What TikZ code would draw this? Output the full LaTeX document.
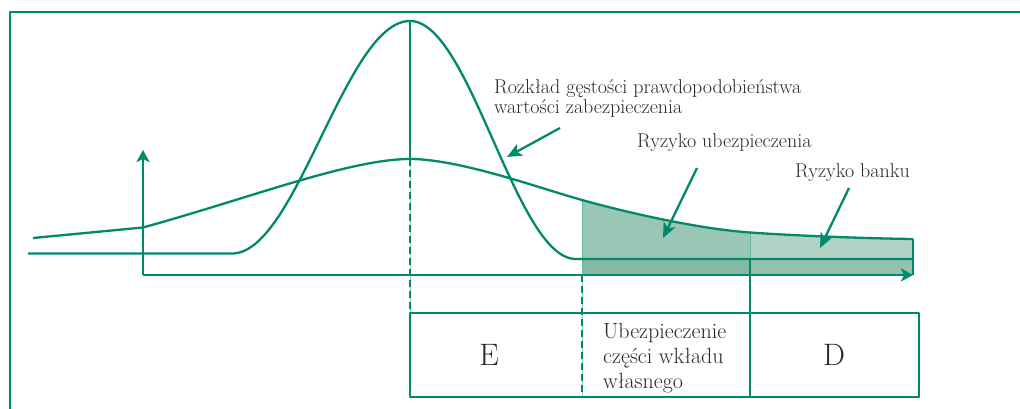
\documentclass[tikz,border=0pt]{standalone}
\usepackage{fontspec}
\usetikzlibrary{arrows.meta}
\definecolor{grn}{RGB}{0,137,107}
\definecolor{fillA}{RGB}{155,198,181}
\definecolor{fillB}{RGB}{177,211,198}
\definecolor{stripA}{RGB}{132,186,166}
\definecolor{stripB}{RGB}{146,193,174}
\definecolor{txt}{RGB}{40,40,40}
\begin{document}
\begin{tikzpicture}[x=1pt,y=-1pt,line join=round,
  gline/.style={draw=grn,line width=2.3pt},
  faint/.style={draw=grn!60,line width=1pt},
  guide/.style={draw=grn!40,line width=1pt},
  dashguide/.style={draw=grn,line width=2.3pt,dash pattern=on 7pt off 4pt},
  axtip/.style={-{Stealth[length=12pt,width=13pt,inset=3pt]}},
  lbtip/.style={-{Stealth[length=15pt,width=13pt,inset=4pt]}},
  lbl/.style={text=txt,inner sep=0pt,font=\fontsize{20}{20}\selectfont},
  cell/.style={text=txt,inner sep=0pt,font=\fontsize{22}{25}\selectfont},
  big/.style={text=txt,inner sep=0pt,font=\fontsize{31}{31}\selectfont}]
\useasboundingbox (0,0) rectangle (1020,409);
% frame
\draw[grn,line width=2.5pt] (10,409) -- (10,12) -- (1020,12);
% coordinates
\coordinate (O) at (143,275);
\coordinate (Ytop) at (143,150);
\coordinate (Xend) at (913,275);
\coordinate (peak) at (410,21);
\coordinate (wpeak) at (410,159);
\coordinate (wA) at (582,200);
\coordinate (wB) at (750,232.5);
\coordinate (wC) at (913,239);
% shaded regions
\fill[fillA] (582,259) -- (wA) .. controls (630,213.4) and (700,229) .. (wB) -- (750,259) -- cycle;
\fill[fillB] (750,259) -- (wB) .. controls (800,236) and (870,238.5) .. (wC) -- (913,259) -- cycle;
\fill[stripA] (582,259) rectangle (750,275);
\fill[stripB] (750,259) rectangle (913,275);
\draw[faint] (wA) -- (582,275);
\draw[faint] (wB) -- (750,259);
\draw[grn,line width=1.5pt] (wC) -- (913,275);
% wide curve
\draw[gline] (33,238) -- (143,227.5) .. controls (250,198) and (350,159) .. (wpeak)
  .. controls (460,159) and (542,189) .. (wA)
  .. controls (630,213.4) and (700,229) .. (wB)
  .. controls (800,236) and (870,238.5) .. (wC);
% narrow curve
\draw[gline] (28,253.5) -- (232,253.5)
  -- plot[domain=232:410,samples=90] (\x,{253.5-232.5*(1+cos((410-\x)/178*180))/2})
  -- plot[domain=410:576,samples=90] (\x,{259-238*(1+cos((\x-410)/166*180))/2})
  -- (913,259);
% verticals
\draw[gline] (peak) -- (wpeak);
\draw[guide] (wpeak) -- (410,313);
\draw[dashguide] (wpeak) -- (410,313);
\draw[guide] (582,275) -- (582,397);
\draw[dashguide] (582,275) -- (582,397);
\draw[gline] (750,259) -- (750,397);
% axes
\draw[gline,axtip] (O) -- (Ytop);
\draw[gline,axtip] (O) -- (Xend);
% table
\draw[grn,line width=2pt] (410,313) rectangle (919,397);
\node[big] (E) at (489,355) {E};
\node[big] (D) at (834,355) {D};
\node[cell,anchor=north west,align=left] (ubez) at (603,323) {Ubezpieczenie\\części wkładu\\własnego};
% labels
\node[lbl,anchor=north west,align=left] (dens) at (494,79) {Rozkład gęstości prawdopodobieństwa\\wartości zabezpieczenia};
\node[lbl,anchor=base west] (ins) at (637,148) {Ryzyko ubezpieczenia};
\node[lbl,anchor=base west] (bank) at (795,178) {Ryzyko banku};
\coordinate (a1s) at (560,128); \coordinate (a1e) at (507,157);
\coordinate (a2s) at (697,168); \coordinate (a2e) at (663,238);
\coordinate (a3s) at (849,188); \coordinate (a3e) at (820,248);
\draw[gline,lbtip] (a1s) -- (a1e);
\draw[gline,lbtip] (a2s) -- (a2e);
\draw[gline,lbtip] (a3s) -- (a3e);
\end{tikzpicture}
\end{document}
